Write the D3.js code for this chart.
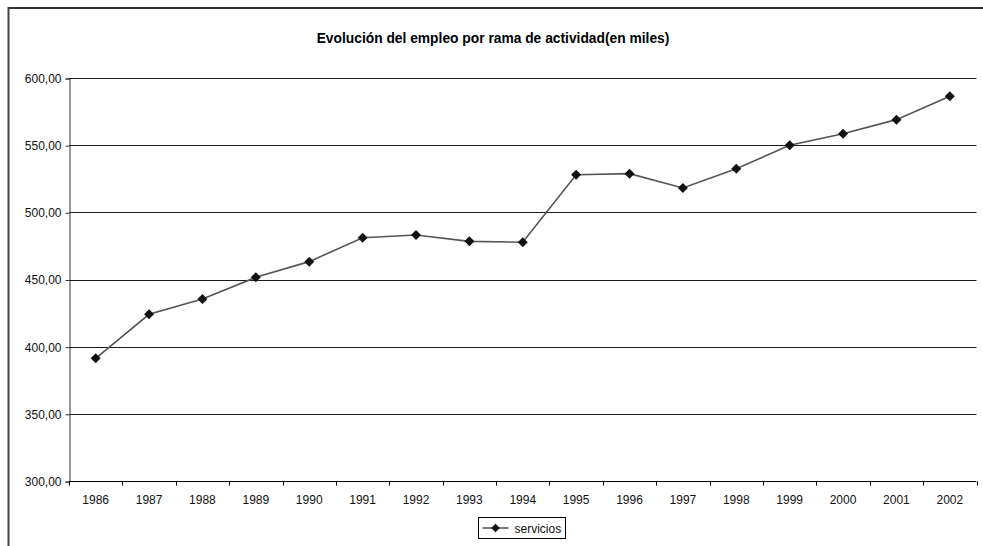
<!DOCTYPE html>
<html>
<head>
<meta charset="utf-8">
<script src="https://cdn.jsdelivr.net/npm/d3@7"></script>
<style>
  html, body { margin: 0; padding: 0; background: #fff; }
  svg { display: block; font-family: "Liberation Sans", Arial, sans-serif; }
</style>
</head>
<body>
<svg id="chart" width="983" height="546"></svg>
<script>
// Employment in services, thousands of people
const years = ["1986","1987","1988","1989","1990","1991","1992","1993","1994",
               "1995","1996","1997","1998","1999","2000","2001","2002"];
const servicios = [391.3, 424.1, 435.5, 451.6, 463.3, 481.1, 483.1, 478.4, 477.7,
                   528.0, 528.8, 518.1, 532.5, 549.9, 558.5, 569.0, 586.4];
const yTicks = [300, 350, 400, 450, 500, 550, 600];
const seriesName = "servicios";
const title = "Evolución del empleo por rama de actividad(en miles)";

const svg = d3.select("#chart");
const W = 983, H = 546;
const plot = { left: 69, right: 976.5, top: 78, bottom: 481 };

// Outer chart frame (top and left edges visible)
svg.append("line").attr("x1", 8).attr("x2", W).attr("y1", 8).attr("y2", 8)
  .attr("stroke", "#333").attr("stroke-width", 2);
svg.append("line").attr("x1", 8.5).attr("x2", 8.5).attr("y1", 7).attr("y2", H)
  .attr("stroke", "#444").attr("stroke-width", 2);

// Title
svg.append("text")
  .attr("x", 493).attr("y", 43)
  .attr("text-anchor", "middle")
  .attr("font-size", 13.8).attr("font-weight", "bold")
  .attr("fill", "#000")
  .text(title);

const x = d3.scaleBand().domain(years).range([plot.left, plot.right]).padding(0);
const y = d3.scaleLinear().domain([300, 600]).range([plot.bottom, plot.top]);

// Horizontal gridlines
svg.append("g").selectAll("line")
  .data(yTicks.filter(t => t > 300))
  .join("line")
  .attr("x1", plot.left).attr("x2", plot.right)
  .attr("y1", d => Math.round(y(d)) + 0.5).attr("y2", d => Math.round(y(d)) + 0.5)
  .attr("stroke", "#1a1a1a").attr("stroke-width", 1);

// Y axis
const yAxis = d3.axisLeft(y).tickValues(yTicks).tickSize(4).tickPadding(4)
  .tickFormat(d => d3.format(".2f")(d).replace(".", ","));
const gy = svg.append("g")
  .attr("transform", `translate(${plot.left + 0.5},0.5)`)
  .call(yAxis);
gy.select(".domain").attr("stroke", "#333");
gy.selectAll(".tick line").attr("stroke", "#333");
gy.selectAll(".tick text").attr("font-size", 12).attr("fill", "#111")
  .attr("font-family", "Liberation Sans, Arial, sans-serif");

// X axis: ticks between categories, labels centred
const gx = svg.append("g").attr("transform", `translate(0,${plot.bottom + 0.5})`);
gx.append("line").attr("x1", plot.left).attr("x2", plot.right)
  .attr("stroke", "#000");
const boundaries = years.map(d => x(d)).concat([x(years[years.length - 1]) + x.bandwidth()]);
gx.selectAll("line.tk").data(boundaries).join("line").attr("class", "tk")
  .attr("x1", d => Math.round(d) + 0.5).attr("x2", d => Math.round(d) + 0.5)
  .attr("y1", 0).attr("y2", 4).attr("stroke", "#000");
gx.selectAll("text").data(years).join("text")
  .attr("x", d => x(d) + x.bandwidth() / 2)
  .attr("y", 22)
  .attr("text-anchor", "middle")
  .attr("font-size", 12).attr("fill", "#111")
  .text(d => d);

// Series line
const cx = d => x(d) + x.bandwidth() / 2;
const line = d3.line().x((d, i) => cx(years[i])).y(d => y(d));
svg.append("path").datum(servicios)
  .attr("d", line)
  .attr("fill", "none").attr("stroke", "#555").attr("stroke-width", 1.6);

// Diamond markers
const diamond = d3.symbol().type(d3.symbolSquare).size(50);
svg.append("g").selectAll("path")
  .data(servicios)
  .join("path")
  .attr("d", diamond)
  .attr("transform", (d, i) => `translate(${cx(years[i])},${y(d)}) rotate(45)`)
  .attr("fill", "#111");

// Legend
const lg = svg.append("g").attr("transform", "translate(478.5,517.5)");
lg.append("rect").attr("width", 87).attr("height", 21)
  .attr("fill", "#fff").attr("stroke", "#000");
lg.append("line").attr("x1", 4).attr("x2", 30).attr("y1", 10.5).attr("y2", 10.5)
  .attr("stroke", "#555").attr("stroke-width", 1.6);
lg.append("path").attr("d", d3.symbol().type(d3.symbolSquare).size(36))
  .attr("transform", "translate(17,10.5) rotate(45)").attr("fill", "#111");
lg.append("text").attr("x", 36).attr("y", 15)
  .attr("font-size", 12).attr("fill", "#111").text(seriesName);
</script>
</body>
</html>
